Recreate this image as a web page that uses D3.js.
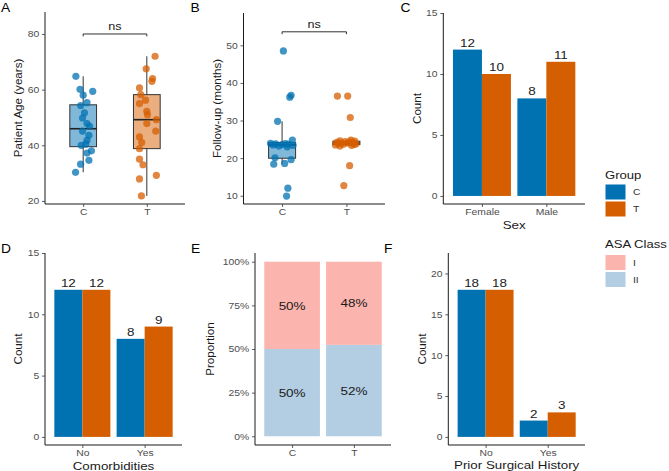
<!DOCTYPE html>
<html lang="en">
<head>
<meta charset="UTF-8">
<title>Baseline characteristics by group</title>
<script src="https://d3js.org/d3.v7.min.js"></script>
<style>
    body, html { margin: 0; padding: 0; background: #fff; }
    svg text { font-family: "Liberation Sans", Arial, sans-serif; }
</style>
</head>
<body>
<div id="chart"></div>
<script>
// ---- data ----
const groups = ["C", "T"];
const groupColors = ["#0072B2", "#D55E00"];

// A: patient age (jitter = horizontal offset as a fraction of category step)
const ageC = [64.8, 60.1, 59.4, 58, 55.3, 54.3, 51.7, 49.8, 47.8, 46.8, 45.1, 43.6, 41.8, 40, 40.4, 38, 37.2, 34.6, 33.2, 30.3];
const ageJitterC = [-0.115, -0.05, 0.15, 0, 0.06, -0.04, 0.02, -0.01, 0.06, 0.1, -0.01, 0.09, 0.06, -0.03, 0.04, 0.13, 0.06, 0.09, -0.04, -0.12];
const ageT = [72, 67.5, 64, 63, 60.6, 58.2, 56.2, 55, 52.2, 51, 49.2, 47.8, 45.1, 43, 41, 38.8, 35, 33, 29.2, 27.9, 21.8];
const ageJitterT = [0.13, -0.01, 0.09, 0.08, -0.115, -0.095, -0.02, -0.115, 0, 0.01, 0.15, 0, 0.14, -0.115, -0.08, -0.115, -0.115, -0.06, 0.15, -0.115, -0.085];
const ageTicks = [20, 40, 60, 80];

// B: follow-up months
const followC = [48.5, 36.7, 36.2, 29.8, 24.8, 23.9, 23.85, 23.8, 23.7, 23.6, 23.5, 23.4, 23.2, 23.0, 20.1, 19.6, 18.6, 18.4, 12.0, 9.9];
const followJitterC = [0.02, 0.14, 0.12, -0.07, 0.16, -0.18, 0.05, -0.1, 0.1, 0, -0.14, 0.17, -0.05, 0.08, -0.11, 0.14, 0.04, -0.13, 0.09, 0.07];
const followT = [36.5, 36.5, 30.8, 18.0, 12.7, 23.2, 23.4, 23.5, 23.6, 23.7, 23.8, 23.9, 24.0, 24.0, 24.1, 24.2, 24.3, 24.4, 24.5, 24.6, 24.8];
const followJitterT = [-0.14, 0.02, 0.06, 0.05, -0.04, -0.1, 0.08, -0.17, 0.12, -0.05, 0.15, -0.12, 0.02, -0.08, 0.1, -0.15, 0.05, -0.02, 0.13, -0.1, 0.07];
const followTicks = [10, 20, 30, 40, 50];

// C, D, F: counts per category (C group, T group)
const sexCats = ["Female", "Male"];
const sexC = [12, 8];
const sexT = [10, 11];
const comorbCats = ["No", "Yes"];
const comorbC = [12, 8];
const comorbT = [12, 9];
const surgCats = ["No", "Yes"];
const surgC = [18, 2];
const surgT = [18, 3];
const countTicks15 = [0, 5, 10, 15];
const countTicks20 = [0, 5, 10, 15, 20];

// E: ASA class counts
const asaCats = ["I", "II"];
const asaColors = ["#FBB4AE", "#B3CDE3"];
const asaC = [10, 10];
const asaT = [10, 11];
const propTicks = [0, 0.25, 0.5, 0.75, 1];

// ---- drawing ----
const SX = 1.15;          // horizontal stretch of the original figure's text
const FONT_TICK = 9, FONT_TITLE = 11.6, FONT_LABEL = 11.7;

const svg = d3.select("#chart").append("svg")
    .attr("width", 669).attr("height", 471);

function htext(g, x, y, str, size, anchor, color) {
    return g.append("text")
        .attr("transform", `translate(${x},${y}) scale(${SX},1)`)
        .attr("text-anchor", anchor || "middle")
        .style("font-size", size + "px")
        .style("fill", color || "#1a1a1a")
        .text(str);
}

function vtitle(x, y, str) {
    svg.append("text")
        .attr("transform", `translate(${x},${y}) rotate(-90)`)
        .attr("text-anchor", "middle")
        .style("font-size", FONT_TITLE + "px")
        .style("fill", "#1a1a1a")
        .text(str);
}

function axes(p, x, y, yTicks, yFmt) {
    const gx = svg.append("g").attr("transform", `translate(0,${p.yBot})`)
        .call(d3.axisBottom(x).tickSize(3).tickSizeOuter(0).tickPadding(2));
    gx.select(".domain").attr("d", `M${p.x0},0H${p.x1}`).attr("stroke", "#000").attr("stroke-width", 0.9);
    const gy = svg.append("g").attr("transform", `translate(${p.x0},0)`)
        .call(d3.axisLeft(y).tickValues(yTicks).tickSize(3).tickSizeOuter(0).tickPadding(2).tickFormat(yFmt || d3.format("d")));
    gy.select(".domain").attr("d", `M0,${p.yBot}V${p.yTop}`).attr("stroke", "#000").attr("stroke-width", 0.9);
    [gx, gy].forEach(g => {
        g.selectAll(".tick line").attr("stroke", "#333").attr("stroke-width", 0.8);
        g.selectAll(".tick text")
            .attr("transform", `scale(${SX},1)`)
            .style("font-size", FONT_TICK + "px")
            .style("fill", "#4D4D4D")
            .style("font-family", "'Liberation Sans', Arial, sans-serif");
    });
}

function boxStats(v) {
    const s = v.slice().sort(d3.ascending);
    const q1 = d3.quantile(s, 0.25), med = d3.quantile(s, 0.5), q3 = d3.quantile(s, 0.75);
    const iqr = q3 - q1;
    const lo = d3.min(s.filter(d => d >= q1 - 1.5 * iqr));
    const hi = d3.max(s.filter(d => d <= q3 + 1.5 * iqr));
    return { q1, med, q3, lo, hi };
}

function boxPanel(p, valsList, jitterList, yDomain, yTicks, bracketVal, title) {
    const x = d3.scalePoint().domain(groups).range([p.x0, p.x1]).padding(0.6);
    const y = d3.scaleLinear().domain(yDomain).range([p.yBot, p.yTop]);
    const step = x.step();
    const bw = step * 0.42;
    groups.forEach((gname, i) => {
        const st = boxStats(valsList[i]);
        const cx = x(gname);
        svg.append("line").attr("x1", cx).attr("x2", cx).attr("y1", y(st.hi)).attr("y2", y(st.q3))
            .attr("stroke", "#333").attr("stroke-width", 1);
        svg.append("line").attr("x1", cx).attr("x2", cx).attr("y1", y(st.q1)).attr("y2", y(st.lo))
            .attr("stroke", "#333").attr("stroke-width", 1);
        svg.append("rect").attr("x", cx - bw / 2).attr("width", bw)
            .attr("y", y(st.q3)).attr("height", y(st.q1) - y(st.q3))
            .attr("fill", groupColors[i]).attr("fill-opacity", 0.5)
            .attr("stroke", "#333").attr("stroke-width", 1);
        svg.append("line").attr("x1", cx - bw / 2).attr("x2", cx + bw / 2)
            .attr("y1", y(st.med)).attr("y2", y(st.med))
            .attr("stroke", "#222").attr("stroke-width", 1.6);
    });
    groups.forEach((gname, i) => {
        svg.append("g").selectAll("circle")
            .data(valsList[i])
            .join("circle")
            .attr("cx", (d, k) => x(gname) + jitterList[i][k] * step)
            .attr("cy", d => y(d))
            .attr("r", 3.6)
            .attr("fill", groupColors[i])
            .attr("fill-opacity", 0.75);
    });
    axes(p, x, y, yTicks);
    // significance bracket
    const by = y(bracketVal);
    svg.append("path")
        .attr("d", `M${x("C")},${by + 2.4}V${by}H${x("T")}V${by + 2.4}`)
        .attr("fill", "none").attr("stroke", "#1a1a1a").attr("stroke-width", 0.9);
    htext(svg, (x("C") + x("T")) / 2, by - 3.5, "ns", 11, "middle");
    vtitle(p.titleX, (p.yTop + p.yBot) / 2, title);
}

function barPanel(p, cats, valsC, valsT, yTicks, xTitle) {
    const x = d3.scalePoint().domain(cats).range([p.x0, p.x1]).padding(0.6);
    const top = d3.max(valsC.concat(valsT)) * 1.25;
    const y = d3.scaleLinear().domain([-0.044 * top, top]).range([p.yBot, p.yTop]);
    const bw = x.step() * 0.9 / 2;
    const data = [];
    cats.forEach((c, i) => {
        data.push({ cat: c, g: 0, v: valsC[i] });
        data.push({ cat: c, g: 1, v: valsT[i] });
    });
    svg.append("g").selectAll("rect").data(data).join("rect")
        .attr("x", d => x(d.cat) - bw + d.g * bw)
        .attr("width", bw)
        .attr("y", d => y(d.v))
        .attr("height", d => y(0) - y(d.v))
        .attr("fill", d => groupColors[d.g]);
    data.forEach(d => htext(svg, x(d.cat) - bw / 2 + d.g * bw, y(d.v) - 3, String(d.v), FONT_LABEL, "middle"));
    axes(p, x, y, yTicks);
    htext(svg, (p.x0 + p.x1) / 2, p.xTitleY, xTitle, FONT_TITLE, "middle");
    vtitle(p.titleX, (p.yTop + p.yBot) / 2, "Count");
}

function propPanel(p) {
    const x = d3.scalePoint().domain(groups).range([p.x0, p.x1]).padding(0.6);
    const y = d3.scaleLinear().domain([-0.05, 1.05]).range([p.yBot, p.yTop]);
    const bw = x.step() * 0.9;
    [asaC, asaT].forEach((counts, gi) => {
        const n = d3.sum(counts);
        // II at the bottom, I stacked on top
        let base = 0;
        [1, 0].forEach(ci => {
            const frac = counts[ci] / n;
            const cx = x(groups[gi]);
            svg.append("rect")
                .attr("x", cx - bw / 2).attr("width", bw)
                .attr("y", y(base + frac)).attr("height", y(base) - y(base + frac))
                .attr("fill", asaColors[ci]);
            htext(svg, cx, y(base + frac / 2) + 4.2, d3.format(".0%")(frac), FONT_LABEL, "middle");
            base += frac;
        });
    });
    axes(p, x, y, propTicks, d3.format(".0%"));
    vtitle(p.titleX, (p.yTop + p.yBot) / 2, "Proportion");
}

const pA = { x0: 45, x1: 185, yTop: 12, yBot: 204, titleX: 21.5 };
const pB = { x0: 243.5, x1: 385, yTop: 13, yBot: 204, titleX: 220.5 };
const pC = { x0: 443.3, x1: 585, yTop: 13, yBot: 204, titleX: 420.5, xTitleY: 228.5 };
const pD = { x0: 45, x1: 182, yTop: 253, yBot: 445, titleX: 21.5, xTitleY: 469.5 };
const pE = { x0: 255, x1: 391, yTop: 253, yBot: 445, titleX: 214 };
const pF = { x0: 448.3, x1: 585, yTop: 253, yBot: 445, titleX: 426, xTitleY: 468.5 };

boxPanel(pA, [ageC, ageT], [ageJitterC, ageJitterT], [18.9, 87.9], ageTicks, 80, "Patient Age (years)");
boxPanel(pB, [followC, followT], [followJitterC, followJitterT], [7.8, 58.6], followTicks, 53.6, "Follow-up (months)");
barPanel(pC, sexCats, sexC, sexT, countTicks15, "Sex");
barPanel(pD, comorbCats, comorbC, comorbT, countTicks15, "Comorbidities");
propPanel(pE);
barPanel(pF, surgCats, surgC, surgT, countTicks20, "Prior Surgical History");

// panel tags
[["A", 1, 11.5], ["B", 190.5, 11.5], ["C", 400.5, 11.5], ["D", 1, 253], ["E", 191, 253], ["F", 384, 253]]
    .forEach(t => htext(svg, t[1], t[2], t[0], 12, "start", "#000"));

// legends
function legend(x, yTitle, title, labels, colors, keyTop) {
    htext(svg, x, yTitle, title, 11.4, "start");
    labels.forEach((lab, i) => {
        const ky = keyTop + i * 17;
        svg.append("rect").attr("x", x + 0.5).attr("y", ky).attr("width", 20).attr("height", 15)
            .attr("fill", colors[i]);
        htext(svg, x + 28, ky + 10.8, lab, 9, "start", "#333");
    });
}
legend(605, 178.5, "Group", groups, groupColors, 184.5);
legend(605, 248, "ASA Class", asaCats, asaColors, 255);
</script>
</body>
</html>
